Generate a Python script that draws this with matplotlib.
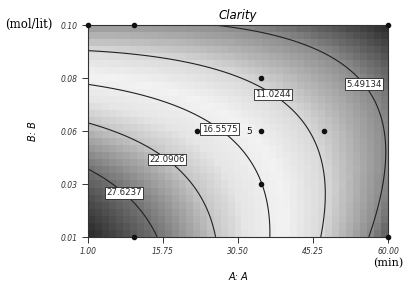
import numpy as np
import matplotlib
matplotlib.use("Agg")
import matplotlib.pyplot as plt
from matplotlib.colors import LinearSegmentedColormap, Normalize

# factor ranges (A in min, B in mol/lit)
a_range = [1.0, 60.0]
b_range = [0.01, 0.10]

# quadratic response model in coded units
coef_names = ["b0", "A", "B", "AB", "A2", "B2"]
coef_vals = [15.62, -8.98, -7.38, 6.22, -1.45, -3.15]

# contour levels shown on the plot
levels = [5.49134, 11.0244, 16.5575, 22.0906, 27.6237]
level_labels = ["5.49134", "11.0244", "16.5575", "22.0906", "27.6237"]
label_pos_a = [55.3, 38.0, 27.9, 17.3, 8.7]
label_pos_b = [0.075, 0.0724, 0.0588, 0.0452, 0.0304]

# design points
pts_a = [1.0, 10.0, 60.0, 10.0, 60.0, 35.0, 22.4, 35.0, 47.4, 35.0]
pts_b = [0.10, 0.10, 0.10, 0.01, 0.01, 0.0775, 0.055, 0.055, 0.055, 0.0325]

# tick labels
x_ticks = [1.00, 15.75, 30.50, 45.25, 60.00]
x_tick_labels = ["1.00", "15.75", "30.50", "45.25", "60.00"]
y_ticks = [0.01, 0.0325, 0.055, 0.0775, 0.10]
y_tick_labels = ["0.01", "0.03", "0.06", "0.08", "0.10"]

# grey shading: value -> grey level
shade_vals = [1.0, 5.5, 11.0, 15.0, 19.0, 22.0, 27.6, 34.0]
shade_gray = [0.17, 0.55, 0.85, 0.95, 0.90, 0.78, 0.45, 0.13]


def response(A, B):
    a = (A - 30.5) / 29.5
    b = (B - 0.055) / 0.045
    c = dict(zip(coef_names, coef_vals))
    return (c["b0"] + c["A"] * a + c["B"] * b + c["AB"] * a * b
            + c["A2"] * a ** 2 + c["B2"] * b ** 2)


vmin, vmax = shade_vals[0], shade_vals[-1]
cmap = LinearSegmentedColormap.from_list(
    "gr", [((v - vmin) / (vmax - vmin), (g, g, g)) for v, g in zip(shade_vals, shade_gray)])

fig = plt.figure(figsize=(4.05, 2.83), dpi=100)
ax = fig.add_axes([0.2173, 0.1625, 0.7407, 0.7491])

# coarse shaded grid
xe = np.linspace(a_range[0], a_range[1], 44)
ye = np.linspace(b_range[0], b_range[1], 31)
xc = (xe[:-1] + xe[1:]) / 2
yc = (ye[:-1] + ye[1:]) / 2
XC, YC = np.meshgrid(xc, yc)
ax.pcolormesh(xe, ye, response(XC, YC), cmap=cmap, norm=Normalize(vmin, vmax), shading="flat")

# smooth contour lines
xf = np.linspace(a_range[0], a_range[1], 300)
yf = np.linspace(b_range[0], b_range[1], 300)
XF, YF = np.meshgrid(xf, yf)
cs = ax.contour(XF, YF, response(XF, YF), levels=levels, colors="#222222", linewidths=0.8)
fmt = dict(zip(cs.levels, level_labels))
texts = ax.clabel(cs, fmt=fmt, fontsize=6.2, inline=False,
                  manual=list(zip(label_pos_a, label_pos_b)))
for t in texts:
    t.set_bbox(dict(boxstyle="square,pad=0.15", fc="white", ec="#222222", lw=0.6))
    t.set_rotation(0)
    t.set_zorder(6)

ax.scatter(pts_a, pts_b, s=9, color="#111111", zorder=5, clip_on=False)
ax.text(33.3, 0.055, "5", fontsize=6.5, ha="right", va="center", color="#111111")

ax.set_xlim(a_range)
ax.set_ylim(b_range)
ax.set_xticks(x_ticks)
ax.set_xticklabels(x_tick_labels, fontsize=5.5, style="italic", color="#333333")
ax.set_yticks(y_ticks)
ax.set_yticklabels(y_tick_labels, fontsize=5.5, style="italic", color="#333333")
ax.tick_params(length=4, width=0.7, color="#333333")
for s in ax.spines.values():
    s.set_color("#333333")
    s.set_linewidth(0.8)

ax.set_title("Clarity", fontsize=8.5, style="italic", pad=4)
ax.set_xlabel("A: A", fontsize=7, style="italic", labelpad=11)
ax.set_ylabel("B: B", fontsize=7, style="italic", labelpad=16)
fig.text(0.012, 0.912, "(mol/lit)", fontsize=8.5, family="DejaVu Serif", va="center")
fig.text(0.922, 0.072, "(min)", fontsize=8, family="DejaVu Serif", va="center")

fig.savefig("out.png", dpi=100)
